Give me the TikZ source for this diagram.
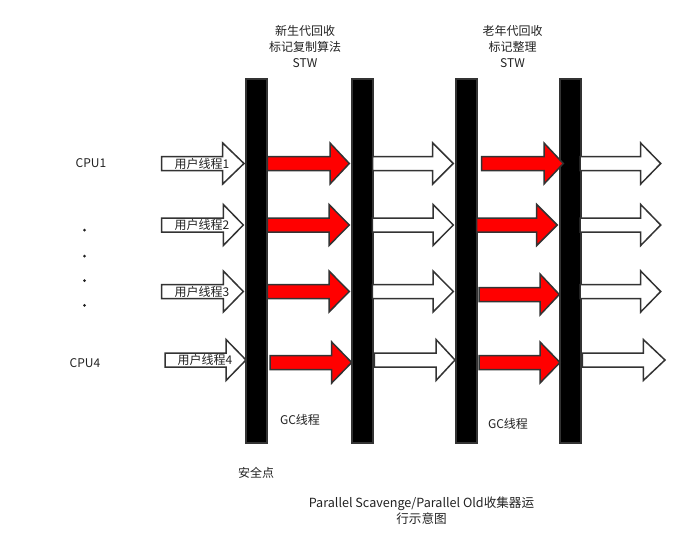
\documentclass[tikz,border=0pt]{standalone}
\usepackage{fontspec}
\setmainfont{Noto Sans CJK SC}
\definecolor{edge}{HTML}{333333}
\definecolor{txt}{HTML}{222222}
\definecolor{gcred}{HTML}{FF0000}
\tikzset{
  whitearrow/.style={draw=edge, line width=1.5pt, fill=white, line join=miter},
  redarrow/.style={draw=edge, line width=1.5pt, fill=gcred, line join=miter},
  barbox/.style={draw=edge, line width=1.5pt, fill=black},
  lbl/.style={text=txt, font=\fontsize{12}{14}\selectfont, inner sep=0pt, align=center},
  small/.style={text=txt, font=\fontsize{12.6}{16}\selectfont, inner sep=0pt, align=center}
}
% style, x0, head base x, tip x, centre y
\newcommand{\gcarrow}[5]{%
  \draw[#1] (#2,#5-7) -- (#3,#5-7) -- (#3,#5-20.5) -- (#4,#5) -- (#3,#5+20.5) -- (#3,#5+7) -- (#2,#5+7) -- cycle;}
\begin{document}
\begin{tikzpicture}[x=1pt,y=-1pt]
\useasboundingbox (0,0) rectangle (689,544);
% bars
\node[barbox, minimum width=21pt, minimum height=364pt, inner sep=0pt, anchor=north west] (b1) at (245,78) {};
\node[barbox, minimum width=21pt, minimum height=364pt, inner sep=0pt, anchor=north west] (b2) at (351,78) {};
\node[barbox, minimum width=21pt, minimum height=364pt, inner sep=0pt, anchor=north west] (b3) at (455,78) {};
\node[barbox, minimum width=21pt, minimum height=364pt, inner sep=0pt, anchor=north west] (b4) at (559,78) {};
% row 1
\gcarrow{whitearrow}{161.7}{222.7}{244}{163.5}
\gcarrow{redarrow}{267.3}{330}{349.3}{163.5}
\gcarrow{whitearrow}{372.7}{432.7}{453.3}{163.5}
\gcarrow{redarrow}{481.7}{544}{563.3}{163.5}
\gcarrow{whitearrow}{580}{640.7}{660.7}{163.5}
% row 2
\gcarrow{whitearrow}{161.7}{223.3}{243.3}{225}
\gcarrow{redarrow}{267.3}{329}{349.3}{225}
\gcarrow{whitearrow}{372.3}{433}{453.3}{225}
\gcarrow{redarrow}{476.7}{536.7}{557.3}{225}
\gcarrow{whitearrow}{580}{640.7}{660.7}{225}
% row 3
\gcarrow{whitearrow}{161.7}{223.3}{243.3}{291.5}
\gcarrow{redarrow}{267.3}{329}{349.3}{291.5}
\gcarrow{whitearrow}{372.3}{433}{453.3}{291.5}
\gcarrow{redarrow}{479}{540}{559.3}{294.5}
\gcarrow{whitearrow}{580}{640.7}{660.7}{291.5}
% row 4
\gcarrow{whitearrow}{165}{226}{246}{360}
\gcarrow{redarrow}{270}{331.7}{351.7}{362.5}
\gcarrow{whitearrow}{374.3}{436}{455}{360}
\gcarrow{redarrow}{479}{540}{560}{362.5}
\gcarrow{whitearrow}{582.3}{643.3}{665}{360}
% arrow labels
\node[lbl] (t1) at (202,163.5) {用户线程1};
\node[lbl] (t2) at (202,225) {用户线程2};
\node[lbl] (t3) at (202,291.5) {用户线程3};
\node[lbl] (t4) at (205,360) {用户线程4};
% CPU labels and dots
\node[lbl] (cpu1) at (91,163.5) {CPU1};
\node[lbl] (cpu4) at (85,363) {CPU4};
\fill[txt] (84.5,230) circle (1.5pt) (84.5,256) circle (1.5pt) (84.5,280.7) circle (1.5pt) (84.5,305.3) circle (1.5pt);
% top labels
\node[lbl, font=\fontsize{12}{16}\selectfont] (top1) at (305,47) {新生代回收\\标记复制算法\\STW};
\node[lbl, font=\fontsize{12}{16}\selectfont] (top2) at (512.5,47) {老年代回收\\标记整理\\STW};
% GC labels
\node[lbl] (gc1) at (300,419.5) {GC线程};
\node[lbl] (gc2) at (508,423.5) {GC线程};
\node[lbl] (safe) at (256,472.5) {安全点};
\node[small] (title) at (421.5,510.5) {Parallel Scavenge/Parallel Old收集器运\\行示意图};
\end{tikzpicture}
\end{document}
